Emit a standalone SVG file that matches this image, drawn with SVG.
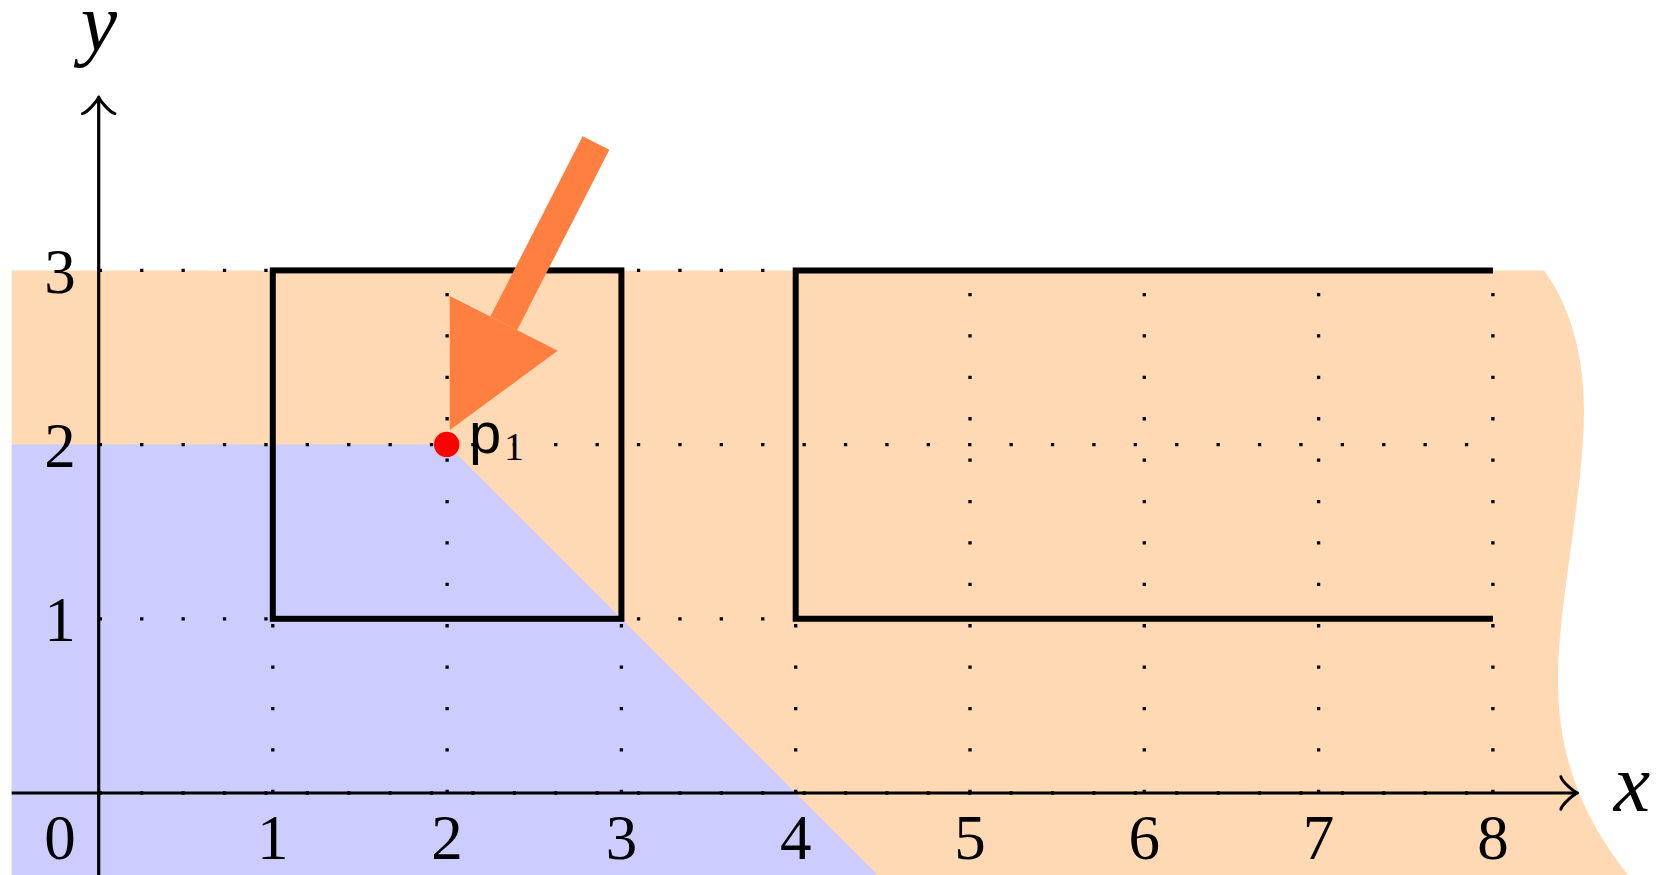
<svg xmlns="http://www.w3.org/2000/svg" width="1658" height="875" viewBox="0 0 1658 875">
<style>
.grid{stroke:#000;stroke-width:3.3;stroke-dasharray:3.3 38.1;fill:none}
.box{stroke:#000;stroke-width:6;fill:none;stroke-linejoin:miter;stroke-linecap:butt}
.axis{stroke:#000;stroke-width:3.2;fill:none}
.tip{stroke:#000;stroke-width:3;fill:none;stroke-linecap:round;stroke-linejoin:round}
.num{font-family:"Liberation Serif",serif;font-size:63px;fill:#000;text-anchor:middle}
.var{font-family:"Liberation Serif",serif;font-style:italic;font-size:82px;fill:#000;text-anchor:middle}
</style>
<defs>
<path id="arrowtip" class="tip" d="M-16.2,16.6 C-11,15.5 -1.1,3.3 0,0 C1.1,3.3 11,15.5 16.2,16.6"/>
</defs>
<g id="regions">
<path id="region-orange" fill="#FFD9B3" d="M11.7,270.4 H1544 C1570,305 1584,355 1584,410 C1584,490 1559,600 1558,675 C1557,760 1585,820 1628,875 H11.7 Z"/>
<path id="region-blue" fill="#CCCCFF" d="M11.7,444.6 H447.1 L877.5,875 H11.7 Z"/>
</g>
<g id="grid">
<path class="grid" d="M98.7,793 H1492.9 M98.7,618.8 H1492.9 M98.7,444.6 H1492.9 M98.7,270.4 H1492.9"/>
<path class="grid" d="M272.8,793 V270.4 M447.1,793 V270.4 M621.4,793 V270.4 M795.7,793 V270.4 M970,793 V270.4 M1144.3,793 V270.4 M1318.6,793 V270.4 M1492.9,793 V270.4"/>
</g>
<g id="box1"><rect class="box" x="272.8" y="270.4" width="348.6" height="348.4"/></g>
<g id="box2"><path class="box" d="M1492.9,270.4 H795.7 V618.8 H1492.9"/></g>
<g id="axes">
<path class="axis" d="M11.7,793 H1576"/>
<use href="#arrowtip" transform="translate(1577.5,793) rotate(90)"/>
<path class="axis" d="M98.7,875 V98.5"/>
<use href="#arrowtip" transform="translate(98.7,97)"/>
</g>
<g id="labels">
<text class="num" x="60" y="859">0</text>
<text class="num" x="272.8" y="859">1</text>
<text class="num" x="447.1" y="859">2</text>
<text class="num" x="621.4" y="859">3</text>
<text class="num" x="795.7" y="859">4</text>
<text class="num" x="970" y="859">5</text>
<text class="num" x="1144.3" y="859">6</text>
<text class="num" x="1318.6" y="859">7</text>
<text class="num" x="1492.9" y="859">8</text>
<text class="num" x="60" y="641">1</text>
<text class="num" x="60" y="467">2</text>
<text class="num" x="60" y="293">3</text>
<text class="var" x="1632" y="811">x</text>
<text class="var" x="99" y="50">y</text>
</g>
<g id="p1">
<circle cx="446.7" cy="444.4" r="12.7" fill="#FF0000"/>
<text x="469" y="453" font-family="'Liberation Sans',sans-serif" font-size="58px" fill="#000">p</text>
<text x="514" y="460" font-family="'Liberation Serif',serif" font-size="40px" fill="#000" text-anchor="middle">1</text>
</g>
<g id="connectors">
<g id="pointer-arrow">
<line x1="596" y1="143" x2="503.7" y2="323.4" stroke="#FF7F40" stroke-width="30"/>
<polygon points="449.7,296.1 557.7,350.7 449.8,430" fill="#FF7F40"/>
</g>
</g>
</svg>
